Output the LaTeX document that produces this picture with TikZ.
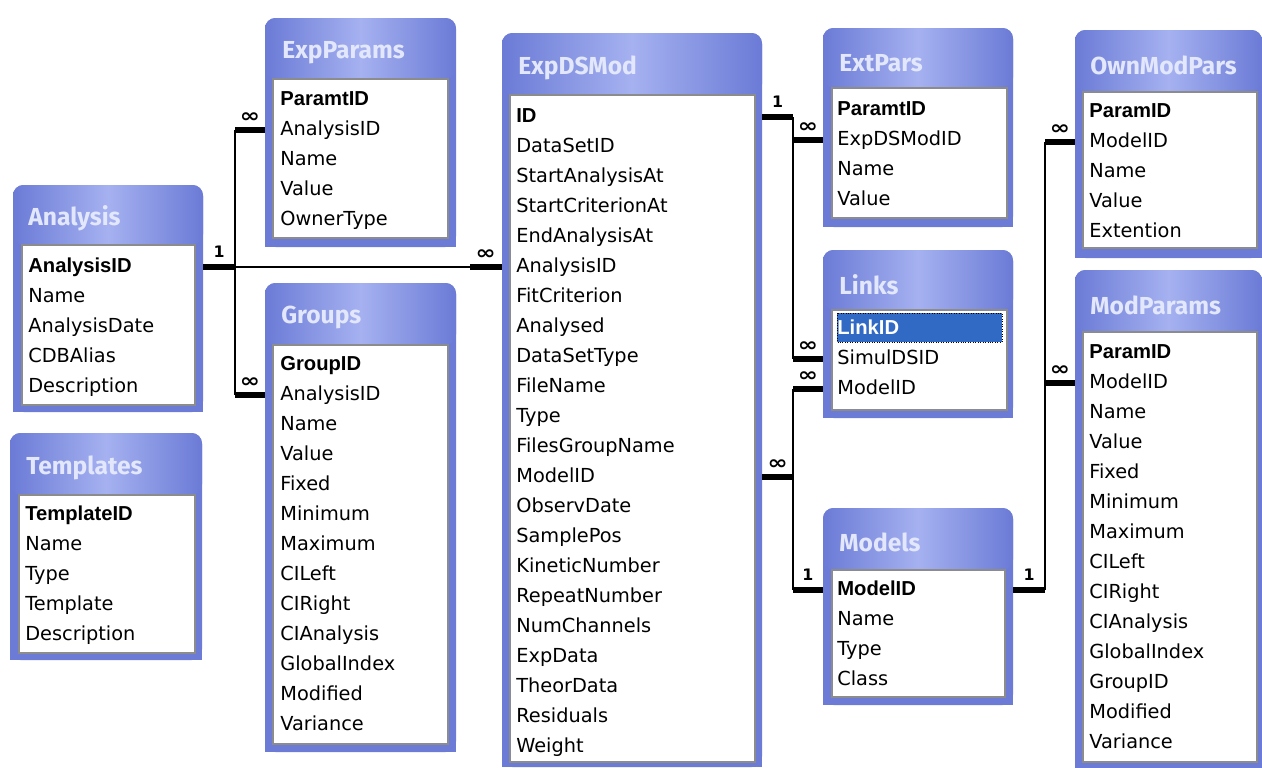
\documentclass[tikz,border=0pt]{standalone}
\usepackage{fontspec}
\setmainfont{DejaVu Sans}
\newfontfamily\fieldfont{DejaVu Sans}
\newfontfamily\keyfont{Liberation Sans}
\newfontfamily\titlefont{Fira Sans}
\newfontfamily\cardfont{DejaVu Sans}
\usetikzlibrary{fit}

\definecolor{tblblue}{HTML}{6B7BD6}
\definecolor{tbllight}{HTML}{A5B1F0}
\definecolor{tbltext}{HTML}{E2E7FB}
\definecolor{selblue}{HTML}{316AC5}

\tikzset{
  tblframe/.style={fill=tblblue, rounded corners=6pt, inner sep=0pt},
  tblhead/.style={left color=tblblue, right color=tblblue, middle color=tbllight, rounded corners=6pt},
  tbltitle/.style={anchor=west, inner sep=0pt, text=tbltext, font=\titlefont\bfseries\fontsize{14}{16}\selectfont},
  tblinner/.style={fill=white, draw=black!45, line width=0.6pt},
  field/.style={anchor=west, inner sep=0pt, text height=8.5pt, text depth=2.5pt, font=\fieldfont\fontsize{11}{13}\selectfont},
  keyfield/.style={field, font=\keyfont\bfseries\fontsize{11.5}{13}\selectfont},
  rel/.style={line width=1.1pt},
  stub/.style={line width=3pt},
  card/.style={above=4pt, inner sep=0pt, font=\cardfont\bfseries\fontsize{9}{10}\selectfont},
  many/.style={above=3pt, inner sep=0pt, xscale=1.25, font=\cardfont\bfseries\fontsize{11}{11}\selectfont}
}

\begin{document}
\begin{tikzpicture}[x=0.02cm, y=-0.02cm]
\fill[white] (0,0) rectangle (1262,768);
\useasboundingbox (0,0) rectangle (1262,768);

% ExpParams
\node[tblframe, fit={(265,18) (456,247)}] (expparams) {};
\fill[tblblue] (265,237) rectangle (456,247);
\path[tblhead] (265,18) rectangle (456,79);
\node[tbltitle] (expparams-t) at (282,53) {ExpParams};
\draw[tblinner] (273,79) rectangle (448,238);
\node[keyfield] (ep-1) at (280,100) {ParamtID};
\foreach \f [count=\i from 2] in {AnalysisID,Name,Value,OwnerType}
  \node[field] (ep-\i) at (280,{100+30*(\i-1)}) {\f};

% Analysis
\node[tblframe, fit={(13,185) (203,412)}] (analysis) {};
\fill[tblblue] (13,402) rectangle (203,412);
\path[tblhead] (13,185) rectangle (203,245);
\node[tbltitle] (analysis-t) at (28,218) {Analysis};
\draw[tblinner] (22,245) rectangle (195,405);
\node[keyfield] (an-1) at (28,267) {AnalysisID};
\foreach \f [count=\i from 2] in {Name,AnalysisDate,CDBAlias,Description}
  \node[field] (an-\i) at (28,{267+30*(\i-1)}) {\f};

% Templates
\node[tblframe, fit={(10,433) (202,660)}] (templates) {};
\fill[tblblue] (10,650) rectangle (202,660);
\path[tblhead] (10,433) rectangle (202,495);
\node[tbltitle] (templates-t) at (26,468) {Templates};
\draw[tblinner] (19,495) rectangle (195,653);
\node[keyfield] (tp-1) at (25,515) {TemplateID};
\foreach \f [count=\i from 2] in {Name,Type,Template,Description}
  \node[field] (tp-\i) at (25,{515+30*(\i-1)}) {\f};

% Groups
\node[tblframe, fit={(265,283) (456,752)}] (groups) {};
\fill[tblblue] (265,742) rectangle (456,752);
\path[tblhead] (265,283) rectangle (456,345);
\node[tbltitle] (groups-t) at (281,317) {Groups};
\draw[tblinner] (273,345) rectangle (448,744);
\node[keyfield] (gr-1) at (280,365) {GroupID};
\foreach \f [count=\i from 2] in {AnalysisID,Name,Value,Fixed,Minimum,Maximum,CILeft,CIRight,CIAnalysis,GlobalIndex,Modified,Variance}
  \node[field] (gr-\i) at (280,{365+30*(\i-1)}) {\f};

% ExpDSMod
\node[tblframe, fit={(502,33) (762,767)}] (expdsmod) {};
\fill[tblblue] (502,757) rectangle (762,767);
\path[tblhead] (502,33) rectangle (762,95);
\node[tbltitle] (expdsmod-t) at (518,68) {ExpDSMod};
\draw[tblinner] (510,95) rectangle (755,762);
\node[keyfield] (ed-1) at (516,117) {ID};
\foreach \f [count=\i from 2] in {DataSetID,StartAnalysisAt,StartCriterionAt,EndAnalysisAt,AnalysisID,FitCriterion,Analysed,DataSetType,FileName,Type,FilesGroupName,ModelID,ObservDate,SamplePos,KineticNumber,RepeatNumber,NumChannels,ExpData,TheorData,Residuals,Weight}
  \node[field] (ed-\i) at (516,{117+30*(\i-1)}) {\f};

% ExtPars
\node[tblframe, fit={(823,28) (1013,227)}] (extpars) {};
\fill[tblblue] (823,217) rectangle (1013,227);
\path[tblhead] (823,28) rectangle (1013,88);
\node[tbltitle] (extpars-t) at (839,63) {ExtPars};
\draw[tblinner] (832,88) rectangle (1007,218);
\node[keyfield] (xp-1) at (837,110) {ParamtID};
\foreach \f [count=\i from 2] in {ExpDSModID,Name,Value}
  \node[field] (xp-\i) at (837,{110+30*(\i-1)}) {\f};

% OwnModPars
\node[tblframe, fit={(1075,30) (1262,258)}] (ownmodpars) {};
\fill[tblblue] (1075,248) rectangle (1262,258);
\path[tblhead] (1075,30) rectangle (1262,92);
\node[tbltitle] (ownmodpars-t) at (1090,65) {OwnModPars};
\draw[tblinner] (1083,92) rectangle (1257,248);
\node[keyfield] (om-1) at (1089,112) {ParamID};
\foreach \f [count=\i from 2] in {ModelID,Name,Value,Extention}
  \node[field] (om-\i) at (1089,{112+30*(\i-1)}) {\f};

% Links
\node[tblframe, fit={(823,250) (1013,418)}] (links) {};
\fill[tblblue] (823,408) rectangle (1013,418);
\path[tblhead] (823,250) rectangle (1013,310);
\node[tbltitle] (links-t) at (839,285) {Links};
\draw[tblinner] (832,310) rectangle (1007,410);
\draw[fill=selblue, draw=black, densely dotted] (837,313) rectangle (1002,342);
\node[keyfield, text=white] (lk-1) at (837,329) {LinkID};
\foreach \f [count=\i from 2] in {SimulDSID,ModelID}
  \node[field] (lk-\i) at (837,{329+30*(\i-1)}) {\f};

% ModParams
\node[tblframe, fit={(1075,270) (1262,768)}] (modparams) {};
\fill[tblblue] (1075,758) rectangle (1262,768);
\path[tblhead] (1075,270) rectangle (1262,332);
\node[tbltitle] (modparams-t) at (1090,305) {ModParams};
\draw[tblinner] (1083,332) rectangle (1257,762);
\node[keyfield] (mp-1) at (1089,353) {ParamID};
\foreach \f [count=\i from 2] in {ModelID,Name,Value,Fixed,Minimum,Maximum,CILeft,CIRight,CIAnalysis,GlobalIndex,GroupID,Modified,Variance}
  \node[field] (mp-\i) at (1089,{353+30*(\i-1)}) {\f};

% Models
\node[tblframe, fit={(823,508) (1013,705)}] (models) {};
\fill[tblblue] (823,695) rectangle (1013,705);
\path[tblhead] (823,508) rectangle (1013,570);
\node[tbltitle] (models-t) at (839,542) {Models};
\draw[tblinner] (832,570) rectangle (1005,697);
\node[keyfield] (md-1) at (837,590) {ModelID};
\foreach \f [count=\i from 2] in {Name,Type,Class}
  \node[field] (md-\i) at (837,{590+30*(\i-1)}) {\f};

% relations: Analysis
\coordinate (busA) at (235,0);
\draw[rel] (busA |- an-1) -- (expdsmod.west |- ed-6);
\draw[rel] (busA |- ep-2) -- (busA |- gr-2);
\draw[stub] (analysis.east |- an-1) -- (busA |- an-1) node[card, midway] {1};
\draw[stub] (expdsmod.west |- ed-6) -- ++(-32,0) node[many, midway] {∞};
\draw[stub] (expparams.west |- ep-2) -- (busA |- ep-2) node[many, midway] {∞};
\draw[stub] (groups.west |- gr-2) -- (busA |- gr-2) node[many, midway] {∞};

% relations: ExpDSMod
\coordinate (busB) at (793,0);
\draw[rel] (busB |- ed-1) -- (busB |- lk-2);
\draw[rel] (busB |- lk-3) -- (busB |- md-1);
\draw[stub] (expdsmod.east |- ed-1) -- (busB |- ed-1) node[card, midway] {1};
\draw[stub] (extpars.west |- xp-2) -- (busB |- xp-2) node[many, midway] {∞};
\draw[stub] (links.west |- lk-2) -- (busB |- lk-2) node[many, midway] {∞};
\draw[stub] (links.west |- lk-3) -- (busB |- lk-3) node[many, midway] {∞};
\draw[stub] (expdsmod.east |- ed-13) -- (busB |- ed-13) node[many, midway] {∞};
\draw[stub] (models.west |- md-1) -- (busB |- md-1) node[card, midway] {1};

% relations: Models
\coordinate (busC) at (1045,0);
\draw[rel] (busC |- om-2) -- (busC |- md-1);
\draw[stub] (models.east |- md-1) -- (busC |- md-1) node[card, midway] {1};
\draw[stub] (ownmodpars.west |- om-2) -- (busC |- om-2) node[many, midway] {∞};
\draw[stub] (modparams.west |- mp-2) -- (busC |- mp-2) node[many, midway] {∞};

\end{tikzpicture}
\end{document}
